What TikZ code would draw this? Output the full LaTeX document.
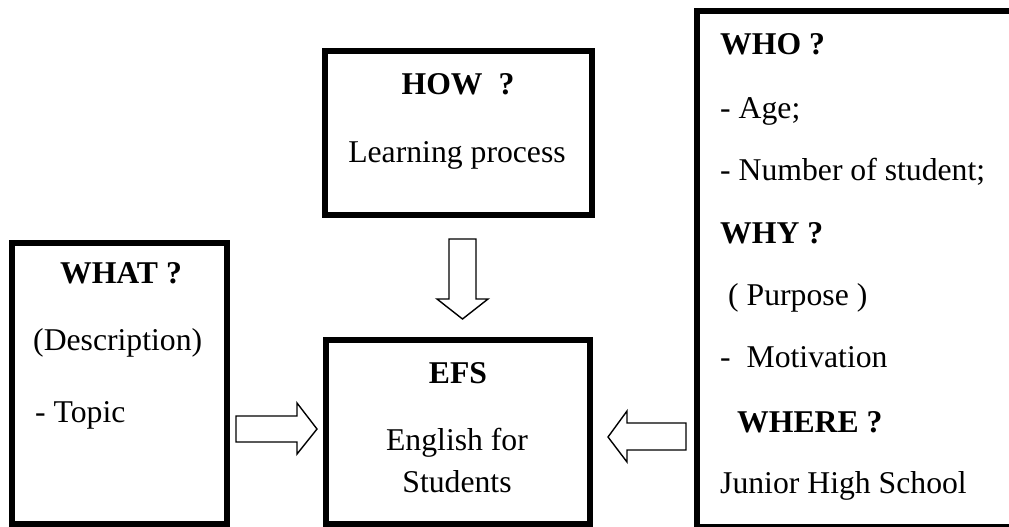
\documentclass[tikz,border=0pt]{standalone}
\usepackage{fontspec}
\setmainfont{Liberation Serif}
\begin{document}
\begin{tikzpicture}[x=1pt,y=-1pt,
  box/.style={draw, line width=6pt, inner sep=0pt, outer sep=0pt, fill=none},
  blk/.style={draw, line width=1.4pt, fill=white, line join=miter},
  txt/.style={inner sep=0pt, anchor=base, font=\fontsize{31.7}{38}\selectfont},
  txtl/.style={txt, anchor=base west},
  hd/.style={font=\fontsize{31.7}{38}\selectfont\bfseries}]
\useasboundingbox (0,0) rectangle (1009,527);

% boxes
\node[box, minimum width=215pt, minimum height=281pt] (what) at (119.5,383.5) {};
\node[box, minimum width=267pt, minimum height=164pt] (how) at (458.5,133) {};
\node[box, minimum width=264pt, minimum height=184pt] (efs) at (458,432) {};
\node[box, minimum width=360pt, minimum height=516pt] (who) at (877,269) {};

% WHAT box text
\node[txt, hd] (whatT) at (121,283) {WHAT ?};
\node[txtl] (whatD) at (33,350) {(Description)};
\node[txtl] (whatP) at (35,422) {- Topic};

% HOW box text
\node[txt, hd] (howT) at (458,94) {HOW\ \ ?};
\node[txt] (howL) at (457,162) {Learning process};

% EFS box text
\node[txt, hd] (efsT) at (458,383) {EFS};
\node[txt] (efsA) at (457,450) {English for};
\node[txt] (efsB) at (457,492) {Students};

% right box text
\node[txtl, hd] (whoT) at (720,55) {WHO ?};
\node[txtl] (age) at (720,118) {- Age;};
\node[txtl] (num) at (720,180) {- Number of student;};
\node[txtl, hd] (whyT) at (720,243) {WHY ?};
\node[txtl] (purp) at (728,305) {( Purpose )};
\node[txtl] (moti) at (720,367) {-\ \ Motivation};
\node[txtl, hd] (whereT) at (737,432) {WHERE ?};
\node[txtl] (jhs) at (720,493) {Junior High School};

% block arrows
\draw[blk] (449,239) -- (476,239) -- (476,299) -- (488,299) -- (462.5,319)
  -- (437,299) -- (449,299) -- cycle;
\draw[blk] (236,416) -- (297,416) -- (297,403) -- (317,429) -- (297,454)
  -- (297,442) -- (236,442) -- cycle;
\draw[blk] (686,423) -- (627,423) -- (627,411) -- (608,437) -- (627,462)
  -- (627,450) -- (686,450) -- cycle;
\end{tikzpicture}
\end{document}
